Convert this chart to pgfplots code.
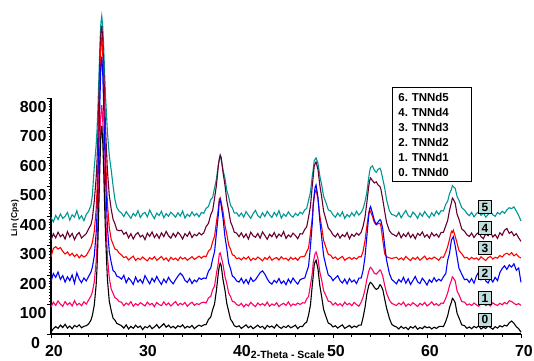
\documentclass[border=0pt]{standalone}
\usepackage{pgfplots}
\pgfplotsset{compat=1.18}
\usepackage{pgfplotstable}
\usepackage{fontspec}
\setmainfont{Liberation Sans}
\definecolor{cTeal}{RGB}{0,150,150}
\definecolor{cMaroon}{RGB}{102,0,51}
\definecolor{cRed}{RGB}{255,0,0}
\definecolor{cBlue}{RGB}{0,0,255}
\definecolor{cPink}{RGB}{255,0,102}
\definecolor{cBox}{RGB}{192,220,220}

\pgfplotstableread{
x s0 s1 s2 s3 s4 s5
20.0 6 92 178 262 318 395
20.25 18 108 205 290 340 380
20.5 25 97 192 296 326 402
20.75 19 112 210 288 345 388
21.0 30 101 185 293 330 407
21.25 22 94 198 280 338 392
21.5 33 110 176 271 322 399
21.75 20 99 194 278 347 412
22.0 27 106 181 266 329 386
22.25 18 95 200 274 341 404
22.5 29 113 172 262 320 396
22.75 24 98 207 270 336 418
23.0 31 104 186 258 344 390
23.25 21 96 174 268 325 401
23.5 26 109 190 261 333 384
23.75 28 101 180 266 340 405
24.0 34 115 195 280 356 416
24.25 47 129 210 295 371 436
24.4 63 142 226 310 392 470
24.6 97 176 264 347 449 564
24.8 165 244 340 421 527 639
24.9 227 304 408 488 591 693
25.0 323 399 514 591 683 774
25.1 445 520 651 725 804 875
25.2 568 641 788 859 924 977
25.3 671 742 902 970 1017 1051
25.4 705 776 940 1007 1045 1078
25.5 657 729 887 955 1002 1044
25.6 562 634 780 851 910 977
25.7 445 520 651 725 804 889
25.8 336 412 530 606 697 808
26.0 186 264 362 443 555 686
26.2 111 190 279 361 470 605
26.4 80 153 244 321 424 557
26.6 54 138 215 305 389 503
26.8 47 123 210 288 374 456
27.0 36 119 196 286 353 429
27.25 32 110 193 274 350 416
27.5 28 108 186 268 352 410
27.75 20 96 199 259 338 398
28.0 31 105 174 262 345 415
28.25 17 99 190 251 326 403
28.5 26 110 181 258 340 392
28.75 19 94 168 264 322 409
29.0 30 103 193 249 337 400
29.25 22 97 176 257 344 418
29.5 27 106 185 252 329 395
29.75 15 101 172 261 335 407
30.0 25 95 198 254 320 412
30.25 21 108 183 248 342 397
30.5 29 99 170 259 331 420
30.75 18 104 189 253 346 404
31.0 24 93 177 262 327 391
31.25 32 107 195 250 339 410
31.5 20 100 180 256 324 402
31.75 27 96 168 263 343 416
32.0 35 109 186 251 330 394
32.25 23 98 174 258 348 408
32.5 30 105 192 247 333 399
32.75 21 95 179 260 325 413
33.0 26 103 170 252 341 405
33.25 19 110 184 257 329 396
33.5 28 97 196 249 345 411
33.75 24 104 206 261 336 400
34.0 31 99 198 254 322 417
34.25 20 107 182 259 340 393
34.5 26 94 175 250 331 406
34.75 22 102 188 256 346 398
35.0 29 108 171 262 327 414
35.25 18 97 183 253 338 401
35.5 25 103 177 258 333 409
35.75 30 100 190 264 343 397
36.0 26 106 185 257 336 412
36.25 31 108 190 264 343 409
36.5 32 105 188 262 364 426
36.75 49 122 213 281 375 432
37.0 58 128 224 289 405 456
37.2 83 150 255 313 419 463
37.4 102 163 279 331 460 495
37.6 148 205 343 379 504 525
37.8 207 241 404 424 570 574
37.9 228 271 448 457 593 589
38.0 240 275 455 462 607 600
38.1 233 262 437 448 599 595
38.3 184 236 393 415 548 556
38.5 150 196 331 369 507 529
38.7 104 171 290 339 452 487
38.9 77 139 240 302 419 465
39.1 50 127 221 287 380 436
39.3 41 110 196 268 365 427
39.5 28 109 192 266 345 410
39.75 24 100 180 255 342 411
40.0 28 96 176 258 330 399
40.25 19 104 189 251 343 410
40.5 25 92 172 260 327 396
40.75 31 101 185 254 339 415
41.0 21 95 170 262 322 403
41.25 27 107 191 249 345 392
41.5 18 99 178 257 333 408
41.75 24 93 184 252 328 419
42.0 30 105 196 261 341 401
42.25 22 98 208 255 325 394
42.5 26 103 214 248 346 411
42.75 17 96 203 259 334 398
43.0 29 108 187 253 321 416
43.25 23 94 175 263 338 404
43.5 27 102 169 250 330 395
43.75 20 97 182 256 344 412
44.0 32 106 174 259 326 400
44.25 24 93 188 251 339 418
44.5 19 100 171 262 331 393
44.75 26 104 180 254 347 407
45.0 22 97 167 257 324 399
45.25 29 109 186 249 336 414
45.5 21 95 173 260 329 402
45.75 25 102 190 253 342 396
46.0 30 98 178 258 334 409
46.25 18 105 169 250 323 401
46.5 26 100 184 261 340 413
46.75 25 106 188 262 339 407
47.0 36 105 190 264 355 421
47.2 40 119 211 279 363 426
47.4 64 127 230 291 396 453
47.6 98 166 297 341 433 480
47.8 167 206 377 395 504 537
47.9 197 243 437 441 535 559
48.0 233 259 472 464 569 587
48.1 245 273 498 483 577 592
48.2 250 278 505 488 583 597
48.4 221 256 463 458 558 579
48.6 164 210 383 400 504 535
48.8 125 182 326 362 464 505
49.0 83 147 266 317 417 467
49.25 59 130 231 293 388 446
49.5 37 111 200 270 359 421
49.75 33 109 194 267 350 417
50.0 24 98 181 256 336 404
50.25 28 106 190 261 329 396
50.5 20 97 198 252 341 410
50.75 26 103 181 258 325 399
51.0 31 95 173 263 337 414
51.25 19 108 186 250 330 392
51.5 24 99 170 256 344 405
51.75 29 104 188 260 323 397
52.0 21 96 176 253 338 411
52.25 27 107 183 259 331 400
52.5 23 100 171 254 342 416
52.75 30 94 189 262 335 403
53.0 30 108 190 262 345 412
53.2 56 125 215 280 365 425
53.4 89 150 260 315 395 448
53.6 135 185 330 365 445 480
53.8 164 212 400 410 500 530
53.9 172 222 425 420 520 552
54.0 175 226 432 415 529 565
54.2 168 218 410 398 520 570
54.4 158 206 385 378 512 555
54.6 151 203 372 370 516 548
54.8 155 210 380 374 505 558
55.0 167 217 388 375 500 562
55.1 164 214 384 365 490 555
55.3 150 195 355 318 455 525
55.5 118 165 300 272 415 495
55.7 88 138 250 262 378 455
56.0 53 115 205 258 350 418
56.25 33 104 185 256 340 405
56.5 27 100 178 258 336 403
56.75 24 97 170 260 331 398
57.0 17 105 185 252 345 412
57.25 26 99 176 258 326 394
57.5 19 108 192 251 339 407
57.75 23 94 172 263 330 419
58.0 15 102 187 255 344 401
58.25 25 97 168 249 327 396
58.5 20 106 181 259 338 413
58.75 27 100 195 253 323 405
59.0 16 93 177 261 341 392
59.25 22 104 171 250 334 410
59.5 18 98 189 257 346 399
59.75 26 107 179 264 329 415
60.0 21 95 166 252 337 403
60.25 24 101 184 258 325 394
60.5 17 109 175 254 343 411
60.75 23 98 191 261 332 400
61.0 19 103 178 256 339 417
61.25 25 96 186 250 328 405
61.5 26 105 180 261 344 418
61.75 25 104 194 260 345 417
62.0 43 122 205 278 367 440
62.2 62 139 250 296 385 450
62.4 90 165 274 322 420 476
62.6 108 182 319 348 445 490
62.7 121 194 324 344 461 503
62.8 118 190 330 352 457 499
63.0 106 180 299 331 444 494
63.2 70 146 261 308 406 466
63.4 55 133 223 283 389 453
63.7 31 110 203 272 356 428
64.0 28 108 184 258 348 420
64.25 19 98 186 260 336 408
64.5 24 102 175 252 331 401
64.75 18 97 188 260 342 412
65.0 26 105 172 254 327 397
65.25 21 99 196 258 338 408
65.5 28 94 210 251 345 415
65.75 17 103 185 262 330 402
66.0 23 108 203 255 323 411
66.25 19 96 180 249 340 396
66.5 27 101 173 259 333 405
66.75 22 95 189 263 346 418
67.0 16 106 176 254 329 404
67.25 25 100 192 260 337 399
67.5 20 97 181 257 324 412
67.75 28 104 208 266 343 406
68.0 24 99 222 261 335 416
68.25 30 107 231 270 352 409
68.5 27 102 219 274 358 421
68.75 38 113 234 268 341 428
69.0 44 110 227 276 347 425
69.25 36 104 238 265 333 431
69.5 25 99 216 271 340 417
69.75 18 103 224 262 326 402
70.0 6 97 175 258 314 383
}\xrd

\begin{document}
\begin{tikzpicture}
\useasboundingbox (-51bp,-27bp) rectangle (483bp,334bp);
\begin{axis}[
  at={(0,0)}, anchor=south west,
  scale only axis, width=470bp, height=236bp,
  xmin=20, xmax=70, ymin=0, ymax=800,
  axis x line*=bottom, axis y line*=left,
  axis line style={black, line width=1.2bp},
  xtick={20,30,...,70}, minor x tick num=4,
  ytick={100,200,...,800}, minor y tick num=9,
  extra y ticks={0}, extra y tick labels={},
  tick align=outside,
  major tick length=4bp, minor tick length=2.5bp,
  every tick/.style={black, line width=0.8bp},
  clip=false,
  /pgf/number format/assume math mode=true,
  ticklabel style={font=\fontsize{16}{16}\selectfont\bfseries},
  xticklabel style={xshift=3bp, yshift=-4bp},
  yticklabel style={yshift=-9bp, xshift=3bp},
]
\addplot[cTeal, line width=1.1bp] table[x=x,y=s5]{\xrd};
\addplot[cMaroon, line width=1.1bp] table[x=x,y=s4]{\xrd};
\addplot[cRed, line width=1.1bp] table[x=x,y=s3]{\xrd};
\addplot[cBlue, line width=1.1bp] table[x=x,y=s2]{\xrd};
\addplot[cPink, line width=1.1bp] table[x=x,y=s1]{\xrd};
\addplot[black, line width=1.1bp] table[x=x,y=s0]{\xrd};

\node[draw=black, line width=0.8bp, fill=white, anchor=north west, inner xsep=6bp, inner ysep=5.5bp,
  text width=67bp, align=left, font=\fontsize{11.5}{15}\selectfont\bfseries]
  at (axis cs:56.28,837) {6.\ TNNd5\\4.\ TNNd4\\3.\ TNNd3\\2.\ TNNd2\\1.\ TNNd1\\0.\ TNNd0};

\tikzset{lab/.style={draw=black, line width=0.7bp, fill=cBox, inner sep=0pt, minimum size=13bp, font=\fontsize{12}{12}\selectfont\bfseries}}
\node[lab] at (axis cs:66.17,430) {5};
\node[lab] at (axis cs:66.17,359) {4};
\node[lab] at (axis cs:66.17,291) {3};
\node[lab] at (axis cs:66.17,207) {2};
\node[lab] at (axis cs:66.17,122) {1};
\node[lab] at (axis cs:66.17,49) {0};

\node[anchor=east, inner sep=0pt, font=\fontsize{16}{16}\selectfont\bfseries] at (axis cs:18.85,-30.5) {0};
\node[font=\fontsize{10.5}{12}\selectfont\bfseries] at (axis cs:45.2,-71) {2-Theta - Scale};
\node[font=\fontsize{8.5}{10}\selectfont\bfseries, rotate=90] at (axis cs:16.17,393) {Lin (Cps)};
\end{axis}
\end{tikzpicture}
\end{document}
